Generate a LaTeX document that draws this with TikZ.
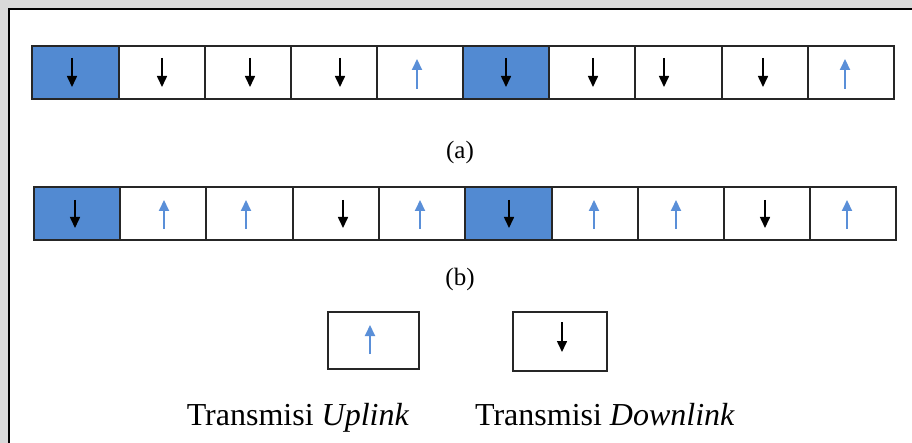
\documentclass[tikz,border=0pt]{standalone}
\usepackage{fontspec}
\setmainfont{Liberation Serif}
\usetikzlibrary{arrows.meta}
\definecolor{slotblue}{HTML}{528AD2}
\definecolor{uparrow}{HTML}{5A8FD8}
\definecolor{pagegray}{HTML}{D9D9D9}
\tikzset{
  cell/.style={draw=black!85, line width=1.1pt, inner sep=0pt, outer sep=0pt,
    minimum height=53pt},
  dn/.style={black, line width=1.6pt, -{Triangle[length=11pt,width=10pt]}},
  upa/.style={uparrow, line width=2pt, -{Triangle[length=11pt,width=10pt]}},
  caption/.style={font=\fontsize{25}{30}\selectfont},
  legend/.style={font=\fontsize{32}{38}\selectfont, anchor=base},
}
\begin{document}
\begin{tikzpicture}[x=1pt, y=-1pt]
  % page and outer frame
  \fill[pagegray] (0,0) rectangle (912,443);
  \useasboundingbox (0,0) rectangle (912,443);
  \draw[line width=2pt, fill=white] (9,9) rectangle (940,470);

  % row (a): left edge / right edge / arrow x / direction / fill
  \foreach \l/\r/\ax/\k/\f [count=\i] in {
      32/119/72/d/slotblue, 119/205/162/d/white, 205/291/250/d/white,
      291/377/340/d/white, 377/463/417/u/white, 463/549/506/d/slotblue,
      549/635/593/d/white, 635/722/664/d/white, 722/808/763/d/white,
      808/894/845/u/white} {
    \node[cell, fill=\f, minimum width={(\r-\l)*1pt}] (a\i) at ({(\l+\r)/2}, 72.5) {};
    \if\k d
      \draw[dn] (\ax, 58) -- (\ax, 87);
    \else
      \draw[upa] (\ax, 89) -- (\ax, 59);
    \fi
  }
  \node[caption] (capa) at (460, 152) {(a)};

  % row (b)
  \foreach \l/\r/\ax/\k/\f [count=\i] in {
      34/120/75/d/slotblue, 120/206/164/u/white, 206/293/246/u/white,
      293/379/343/d/white, 379/465/420/u/white, 465/552/509/d/slotblue,
      552/638/594/u/white, 638/724/676/u/white, 724/810/765/d/white,
      810/896/847/u/white} {
    \node[cell, fill=\f, minimum width={(\r-\l)*1pt}] (b\i) at ({(\l+\r)/2}, 213.5) {};
    \if\k d
      \draw[dn] (\ax, 200) -- (\ax, 228);
    \else
      \draw[upa] (\ax, 229) -- (\ax, 200);
    \fi
  }
  \node[caption] (capb) at (460, 279) {(b)};

  % legend
  \node[cell, minimum width=91pt, minimum height=57pt] (keyup) at (373.5, 340.5) {};
  \draw[upa] (370, 354) -- (370, 325);
  \node[cell, minimum width=94pt, minimum height=59pt] (keydn) at (560, 341.5) {};
  \draw[dn] (562, 322) -- (562, 352);
  \node[legend] (txtup) at (298, 425) {Transmisi \textit{Uplink}};
  \node[legend] (txtdn) at (605, 425) {Transmisi \textit{Downlink}};
\end{tikzpicture}
\end{document}
